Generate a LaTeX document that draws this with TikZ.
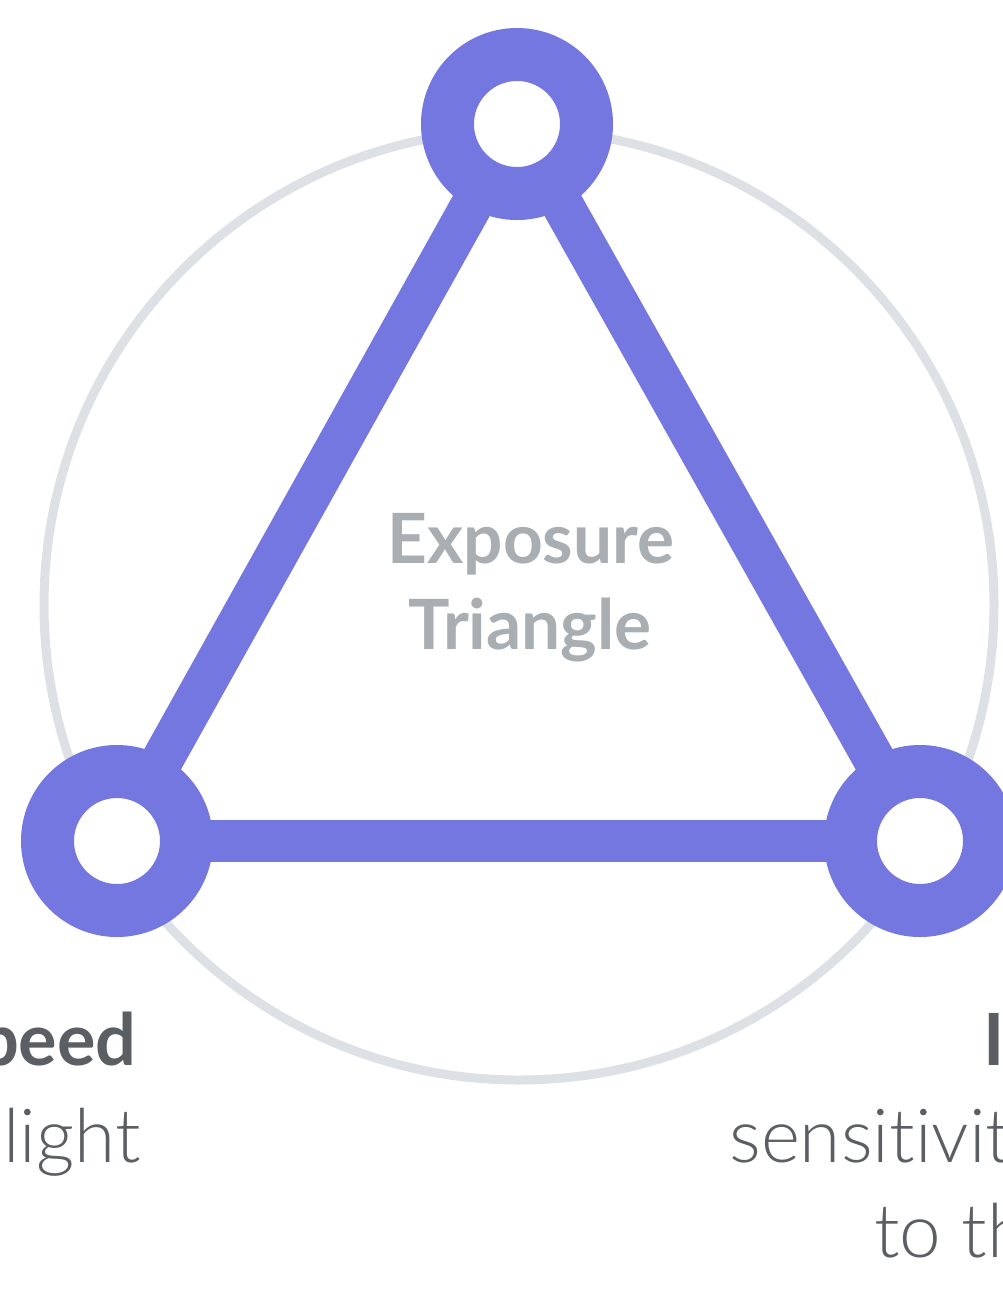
\documentclass[tikz,border=0pt]{standalone}
\usepackage{fontspec}
\setmainfont{Lato}[Ligatures=NoCommon]
\newfontfamily\lightfont{Lato}[UprightFont={* Light},Ligatures=NoCommon,RawFeature={-liga}]
\definecolor{tripurple}{HTML}{7577E1}
\definecolor{ringgray}{HTML}{DDE1E6}
\definecolor{titlegray}{HTML}{A9AEB2}
\definecolor{labelgray}{HTML}{5B5F64}
\begin{document}
\begin{tikzpicture}[x=0.75pt,y=-0.75pt,
  vertex/.style={circle,draw=tripurple,fill=white,line width=39.75pt,minimum size=104.25pt,inner sep=0pt,outer sep=0pt},
  edge/.style={draw=tripurple,line width=31.5pt},
  ring/.style={draw=ringgray,line width=6.75pt},
  title/.style={text=titlegray,font=\bfseries\fontsize{52}{60}\selectfont,inner sep=0pt,anchor=base},
  boldlabel/.style={text=labelgray,font=\bfseries\fontsize{54}{64}\selectfont,inner sep=0pt},
  lightlabel/.style={text=labelgray,font=\lightfont\fontsize{56}{64}\selectfont,inner sep=0pt}]
\useasboundingbox (0,0) rectangle (1003,1300);
\clip (0,0) rectangle (1003,1300);
\fill[white] (0,0) rectangle (1003,1300);
\coordinate (ringc) at (519,605);
\draw[ring] (ringc) circle[radius=356.25pt];
\coordinate (vt) at (517,124);
\coordinate (vl) at (117,841);
\coordinate (vr) at (920,841);
\draw[edge] (vt) -- (vl);
\draw[edge] (vt) -- (vr);
\draw[edge] (vl) -- (vr);
\node[vertex] (top) at (vt) {};
\node[vertex] (left) at (vl) {};
\node[vertex] (right) at (vr) {};
\node[title] (t1) at (531,563) {Exposure};
\node[title] (t2) at (530,649) {Triangle};
\node[boldlabel,anchor=base east] (lspeed) at (137,1065) {peed};
\node[lightlabel,anchor=base east] (llight) at (141,1162) {light};
\node[boldlabel,anchor=base west] (riso) at (983,1065) {I};
\node[lightlabel,anchor=base west] (rsens) at (729,1162) {sensitivit};
\node[lightlabel,anchor=base west] (rto) at (874,1257) {to th};
\end{tikzpicture}
\end{document}
